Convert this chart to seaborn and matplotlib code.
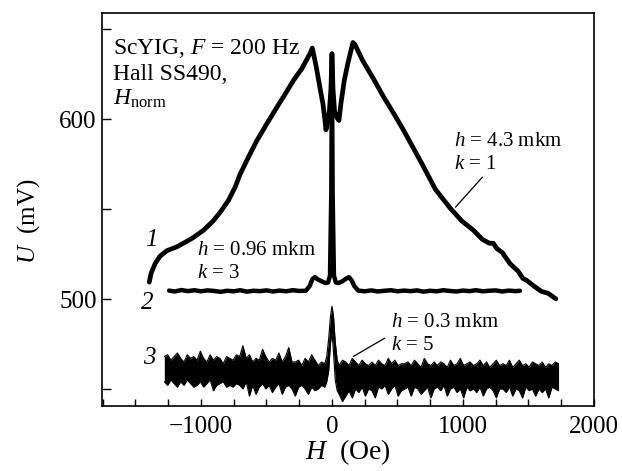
import numpy as np
import pandas as pd
import matplotlib
matplotlib.use("Agg")
import matplotlib.pyplot as plt
from matplotlib.ticker import MultipleLocator
import seaborn as sns

# ---------------- data ----------------
# curve 1 : h = 4.3 mkm, k = 1
H1 = [-1395, -1380, -1350, -1313, -1260, -1186, -1120, -1059, -980, -906,
      -850, -791, -740, -702, -640, -575, -500, -422, -360, -295,
      -230, -168, -150, -120, -90, -69, -55, -46, -35, -20,
      -8, 0, 8, 20, 35, 53, 70, 95, 122, 160,
      175, 237, 313, 392, 470, 545, 615, 685, 790, 901,
      990, 1079, 1150, 1200, 1232, 1260, 1300, 1359, 1420, 1458,
      1486, 1540, 1600, 1650, 1690, 1710]
U1 = [509.4, 514.5, 519.7, 523.8, 526.9, 529.0, 531.6, 534.2, 538.3, 543.5,
      548.6, 554.8, 562.1, 569.3, 578.6, 587.9, 597.2, 606.5, 613.7, 621.5,
      628.2, 636.5, 639.6, 629.2, 616.8, 608.6, 600.3, 594.1, 597.2, 604.4,
      616.8, 636.5, 616.8, 604.4, 601.3, 599.3, 609.6, 622.0, 631.3, 642.7,
      641.6, 632.3, 623.0, 612.7, 603.4, 594.1, 584.8, 575.5, 561.0, 550.7,
      543.5, 538.3, 533.1, 531.1, 531.0, 528.0, 525.9, 519.7, 515.6, 511.4,
      510.4, 507.3, 504.2, 503.2, 501.1, 500.1]

# curve 2 : h = 0.96 mkm, k = 3
H2 = [-1244, -1200, -1150, -1100, -1050, -1000, -950, -900, -850, -800,
      -750, -700, -650, -600, -550, -500, -450, -400, -350, -300,
      -250, -200, -170, -150, -130, -110, -80, -50, -30, -15,
      -5, 0, 5, 15, 30, 50, 80, 110, 130, 150,
      170, 200, 250, 300, 350, 400, 450, 500, 550, 600,
      650, 700, 750, 800, 850, 900, 950, 1000, 1050, 1100,
      1150, 1200, 1250, 1300, 1350, 1400, 1435]
U2 = [504.7, 504.2, 505.0, 504.4, 504.9, 504.3, 504.8, 504.5, 504.0, 504.6,
      504.3, 504.9, 504.1, 504.6, 504.4, 504.8, 504.2, 504.7, 504.3, 504.9,
      504.5, 504.6, 507.3, 511.0, 512.2, 511.0, 509.9, 508.9, 509.2, 513.0,
      560.0, 632.0, 560.0, 513.0, 509.2, 508.9, 509.9, 511.4, 512.2, 510.4,
      507.3, 504.7, 504.3, 504.8, 504.2, 504.6, 504.9, 504.3, 504.7, 504.4,
      504.8, 504.1, 504.6, 504.3, 504.9, 504.5, 504.2, 504.7, 504.4, 504.9,
      504.3, 504.6, 504.8, 504.2, 504.7, 504.4, 504.6]

# curve 3 : h = 0.3 mkm, k = 5  (noisy band: upper and lower envelopes)
H3 = [-1280, -1255, -1230, -1205, -1180, -1155, -1130, -1105, -1080, -1055,
      -1030, -1005, -980, -955, -930, -905, -880, -855, -830, -805,
      -780, -755, -730, -705, -680, -655, -630, -605, -580, -555,
      -530, -505, -480, -455, -430, -405, -380, -355, -330, -305,
      -280, -255, -230, -205, -180, -155, -130, -105, -80, -55,
      -40, -25, -12, 0, 12, 25, 40,
      55, 80, 105, 130, 155, 180, 205, 230, 255, 280,
      305, 330, 355, 380, 405, 430, 455, 480, 505, 530,
      555, 580, 605, 630, 655, 680, 705, 730, 755, 780,
      805, 830, 855, 880, 905, 930, 955, 980, 1005, 1030,
      1055, 1080, 1105, 1130, 1155, 1180, 1205, 1230, 1255, 1280,
      1305, 1330, 1355, 1380, 1405, 1430, 1455, 1480, 1505, 1530,
      1555, 1580, 1605, 1630, 1655, 1680, 1705, 1730]
U3_hi = [468, 469, 466, 468, 470, 467, 465, 469, 467, 468,
         466, 471, 467, 465, 469, 466, 468, 467, 464, 468,
         467, 466, 469, 468, 474, 467, 469, 465, 467, 466,
         472, 468, 465, 467, 466, 470, 465, 468, 473, 465,
         465, 466, 463, 467, 465, 469, 466, 463, 465, 464,
         468, 478, 490, 496, 490, 476, 466,
         463, 466, 465, 463, 467, 465, 463, 466, 464, 463,
         465, 463, 466, 464, 463, 467, 464, 466, 463, 464,
         464, 465, 463, 466, 464, 462, 467, 464, 463, 465,
         463, 465, 464, 462, 466, 463, 464, 467, 463, 464,
         465, 463, 464, 466, 463, 465, 462, 464, 466, 463,
         464, 463, 466, 462, 464, 466, 463, 464, 462, 465,
         464, 463, 465, 462, 464, 463, 465, 464]
U3_lo = [454, 452, 455, 453, 451, 454, 452, 455, 453, 451,
         452, 454, 451, 453, 455, 449, 452, 453, 454, 451,
         452, 451, 453, 452, 450, 454, 446, 452, 447, 451,
         453, 450, 452, 448, 451, 453, 447, 451, 452, 450,
         446, 451, 452, 450, 447, 451, 449, 450, 452, 451,
         454, 460, 475, 482, 470, 455, 449,
         447, 443, 446, 449, 445, 450, 448, 451, 446, 450,
         449, 445, 451, 450, 452, 447, 450, 452, 446, 449,
         450, 451, 446, 451, 450, 447, 449, 451, 445, 450,
         451, 449, 452, 446, 450, 451, 448, 450, 445, 451,
         449, 450, 448, 451, 446, 450, 451, 449, 445, 450,
         450, 448, 451, 446, 450, 449, 445, 451, 449, 450,
         446, 450, 448, 450, 445, 451, 450, 449]

# ---------------- style ----------------
sns.set_theme(style="ticks")
plt.rcParams["font.family"] = ["Liberation Serif", "DejaVu Serif"]
plt.rcParams["mathtext.fontset"] = "custom"
plt.rcParams["mathtext.rm"] = "Liberation Serif"
plt.rcParams["mathtext.it"] = "Liberation Serif:italic"
plt.rcParams["axes.unicode_minus"] = True
for key in ["text.color", "axes.labelcolor", "xtick.color", "ytick.color",
            "axes.edgecolor"]:
    plt.rcParams[key] = "black"

fig = plt.figure(figsize=(6.22, 4.71), dpi=100)
ax = fig.add_axes([0.1635, 0.138, 0.792, 0.834])

d1 = pd.DataFrame({"H": H1, "U": U1})
d2 = pd.DataFrame({"H": H2, "U": U2})
d3 = pd.DataFrame({"H": H3, "hi": U3_hi, "lo": U3_lo})

ax.fill_between(d3["H"], d3["lo"], d3["hi"], color="black", lw=0)
sns.lineplot(data=d3, x="H", y="hi", ax=ax, sort=False, estimator=None,
             color="black", lw=0.8)
sns.lineplot(data=d3, x="H", y="lo", ax=ax, sort=False, estimator=None,
             color="black", lw=0.8)
sns.lineplot(data=d2, x="H", y="U", ax=ax, sort=False, estimator=None,
             color="black", lw=3.2)
sns.lineplot(data=d1, x="H", y="U", ax=ax, sort=False, estimator=None,
             color="black", lw=3.4)

ax.set_xlim(-1758, 2003)
ax.set_ylim(440.5, 659)

ax.xaxis.set_major_locator(MultipleLocator(1000))
ax.xaxis.set_minor_locator(MultipleLocator(250))
ax.yaxis.set_major_locator(MultipleLocator(100))
ax.yaxis.set_minor_locator(MultipleLocator(50))
ax.tick_params(axis="both", which="both", direction="in", width=1.0,
               colors="black", labelsize=18, top=False, right=False)
ax.tick_params(axis="x", which="both", length=5)
ax.tick_params(axis="y", which="both", length=6.5)
ax.tick_params(axis="x", pad=7)
for s in ax.spines.values():
    s.set_linewidth(1.2)
    s.set_color("black")

ax.set_xlabel("$H$  (Oe)", fontsize=20, labelpad=0)
ax.set_ylabel("$U$  (mV)", fontsize=18)
ax.yaxis.set_label_coords(-0.122, 0.47)

# annotations
fs_a = 15
ax.text(-1671, 636.1, "ScYIG, $F$ = 200 Hz", fontsize=17, va="baseline")
ax.text(-1671, 621.7, "Hall SS490,", fontsize=17, va="baseline")
ax.text(-1671, 608.3, r"$H_{\mathrm{norm}}$", fontsize=17, va="baseline")

ax.text(935, 585.2, "$h$ = 4.3 mkm", fontsize=fs_a, va="baseline")
ax.text(935, 572.6, "$k$ = 1", fontsize=fs_a, va="baseline")
ax.plot([1149, 943], [567.8, 551.1], color="black", lw=0.9)

ax.text(-1031, 524.4, "$h$ = 0.96 mkm", fontsize=fs_a, va="baseline")
ax.text(-1031, 511.7, "$k$ = 3", fontsize=fs_a, va="baseline")

ax.text(453, 484.3, "$h$ = 0.3 mkm", fontsize=fs_a, va="baseline")
ax.text(453, 471.7, "$k$ = 5", fontsize=fs_a, va="baseline")
ax.plot([402, 162], [478.2, 468.0], color="black", lw=0.9)

ax.text(-1380, 533, "1", fontsize=18, style="italic", ha="center", va="center")
ax.text(-1412, 497.6, "2", fontsize=18, style="italic", ha="center", va="center")
ax.text(-1393, 467, "3", fontsize=18, style="italic", ha="center", va="center")

fig.savefig("out.png", dpi=100)
